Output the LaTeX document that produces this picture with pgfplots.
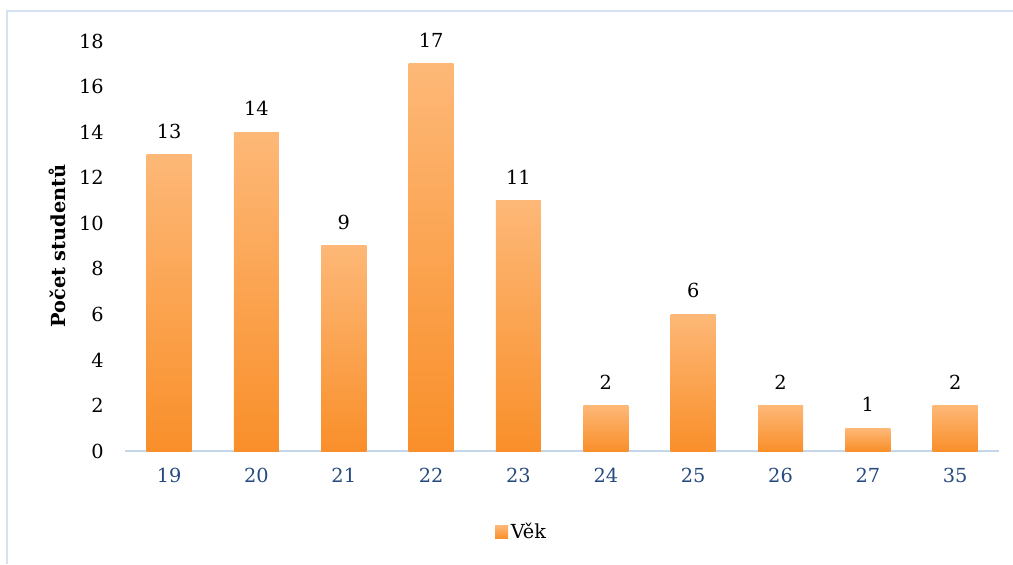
\documentclass[border=0pt]{standalone}
\usepackage{fontspec}
\setmainfont{DejaVu Serif}
\usepackage{pgfplots}
\pgfplotsset{compat=1.18}
\definecolor{bartop}{HTML}{FDB877}
\definecolor{barbot}{HTML}{F98F2A}
\definecolor{frame}{HTML}{D5E2F2}
\definecolor{axline}{HTML}{C6D6EA}
\definecolor{xlab}{HTML}{264A7E}
\newcommand{\cf}{\fontsize{14.5}{16}\selectfont}
\begin{document}
\begin{tikzpicture}
\useasboundingbox (0,0) rectangle (759.75pt,423pt);
\draw[frame, line width=1.5pt] (5.25pt,0pt) -- (5.25pt,414.75pt) -- (759.75pt,414.75pt);
\begin{axis}[
  at={(94.05pt,84.75pt)}, anchor=south west,
  scale only axis, width=655.1pt, height=307.5pt,
  xmin=-0.5, xmax=9.5, ymin=0, ymax=18,
  ytick={0,2,...,18},
  xtick={0,...,9},
  xticklabels={19,20,21,22,23,24,25,26,27,35},
  axis x line=bottom, axis y line=left,
  x axis line style={axline, line width=1pt, -},
  y axis line style={draw=none},
  major tick length=0pt,
  no markers,
  /pgf/number format/assume math mode=true,
  tick label style={font=\cf},
  yticklabel style={anchor=east, inner sep=0pt, xshift=-16pt},
  xticklabel style={anchor=north, inner sep=0pt, yshift=-13pt, text=xlab},
  ylabel={\textbf{Počet studentů}},
  ylabel style={at={(axis description cs:-0.078,0.5)}, anchor=center, font=\cf},
  every axis plot/.append style={ybar, bar width=33.75pt, bar shift=0pt, draw=none, top color=bartop, bottom color=barbot, mark=none},
  nodes near coords,
  every node near coord/.append style={anchor=south, inner sep=0pt, yshift=12pt, font=\cf, text=black},
  legend style={draw=none, at={(0.454,-0.1976)}, anchor=center, font=\cf},
  legend image code/.code={\fill[top color=bartop, bottom color=barbot] (0pt,-4.9pt) rectangle (9.75pt,4.9pt);},
]
\addplot coordinates {(0,13)};
\addlegendentry{Věk}
\addplot[forget plot] coordinates {(1,14)};
\addplot[forget plot] coordinates {(2,9)};
\addplot[forget plot] coordinates {(3,17)};
\addplot[forget plot] coordinates {(4,11)};
\addplot[forget plot] coordinates {(5,2)};
\addplot[forget plot] coordinates {(6,6)};
\addplot[forget plot] coordinates {(7,2)};
\addplot[forget plot] coordinates {(8,1)};
\addplot[forget plot] coordinates {(9,2)};
\end{axis}
\end{tikzpicture}
\end{document}
